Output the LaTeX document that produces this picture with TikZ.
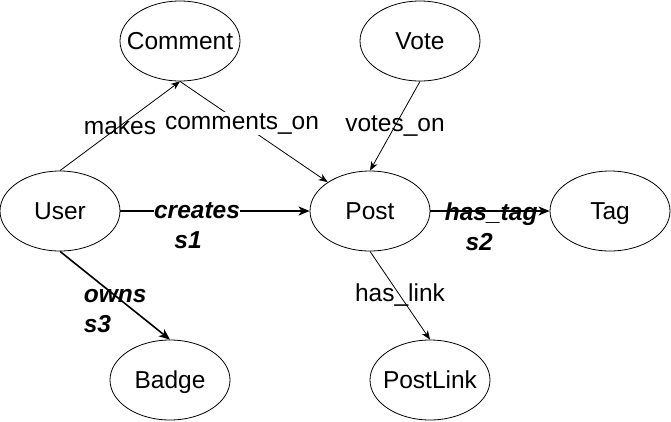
\documentclass[tikz,border=0pt]{standalone}
\usepackage{fontspec}
\setmainfont{Liberation Sans}
\usetikzlibrary{shapes.geometric,arrows.meta}
\newcommand\diafont{\fontsize{24.5}{30}\selectfont}
\begin{document}
\begin{tikzpicture}[x=1pt,y=-1pt,
  ent/.style={ellipse,draw,line width=0.8pt,minimum width=120pt,minimum height=80pt,inner sep=0pt,font=\diafont,text height=17.5pt,text depth=0pt},
  thinedge/.style={line width=0.8pt,-{Stealth[length=9pt,width=7pt,inset=2.5pt]}},
  thickedge/.style={line width=1.6pt,-{Stealth[length=11pt,width=9pt,inset=3pt]}},
  lbl/.style={font=\diafont,inner sep=1pt},
  blbl/.style={font=\diafont\bfseries\itshape,inner sep=0pt}]
\useasboundingbox (0,0) rectangle (671,421);
\node[ent] (Comment) at (180,41) {\makebox[0pt]{Comment}};
\node[ent] (Vote) at (420,41) {\makebox[0pt]{Vote}};
\node[ent] (User) at (60,211) {\makebox[0pt]{User}};
\node[ent] (Post) at (370,211) {\makebox[0pt]{Post}};
\node[ent] (Tag) at (610,211) {\makebox[0pt]{Tag}};
\node[ent] (Badge) at (170,380) {\makebox[0pt]{Badge}};
\node[ent] (PostLink) at (430,380) {\makebox[0pt]{PostLink}};

\draw[thinedge] (User.north) -- (Comment.south) node[lbl,pos=0.5] (lmakes) {makes};
\draw[thinedge] (Comment.south) -- (Post) node[lbl,fill=white,pos=0.42] (lcomments) {comments\_on};
\draw[thinedge] (Vote.south) -- (Post.north) node[lbl,pos=0.5] (lvotes) {votes\_on};
\draw[thinedge] (Post.south) -- (PostLink.north) node[lbl,pos=0.5] (llink) {has\_link};
\draw[thickedge] (User.east) -- (Post.west) node[blbl,fill=white,align=center,pos=0.405,yshift=-15pt] (lcreates) {creates\\s1\hspace*{18pt}};
\draw[thickedge] (Post.east) -- (Tag.west) node[blbl,align=center,pos=0.51,yshift=-16pt] (ltag) {has\_tag\\s2\hspace*{24pt}};
\draw[thickedge] (User.south) -- (Badge.north) node[blbl,align=left,anchor=west,pos=0.5,xshift=-32pt,yshift=-16pt] (lowns) {owns\\s3};
\end{tikzpicture}
\end{document}
